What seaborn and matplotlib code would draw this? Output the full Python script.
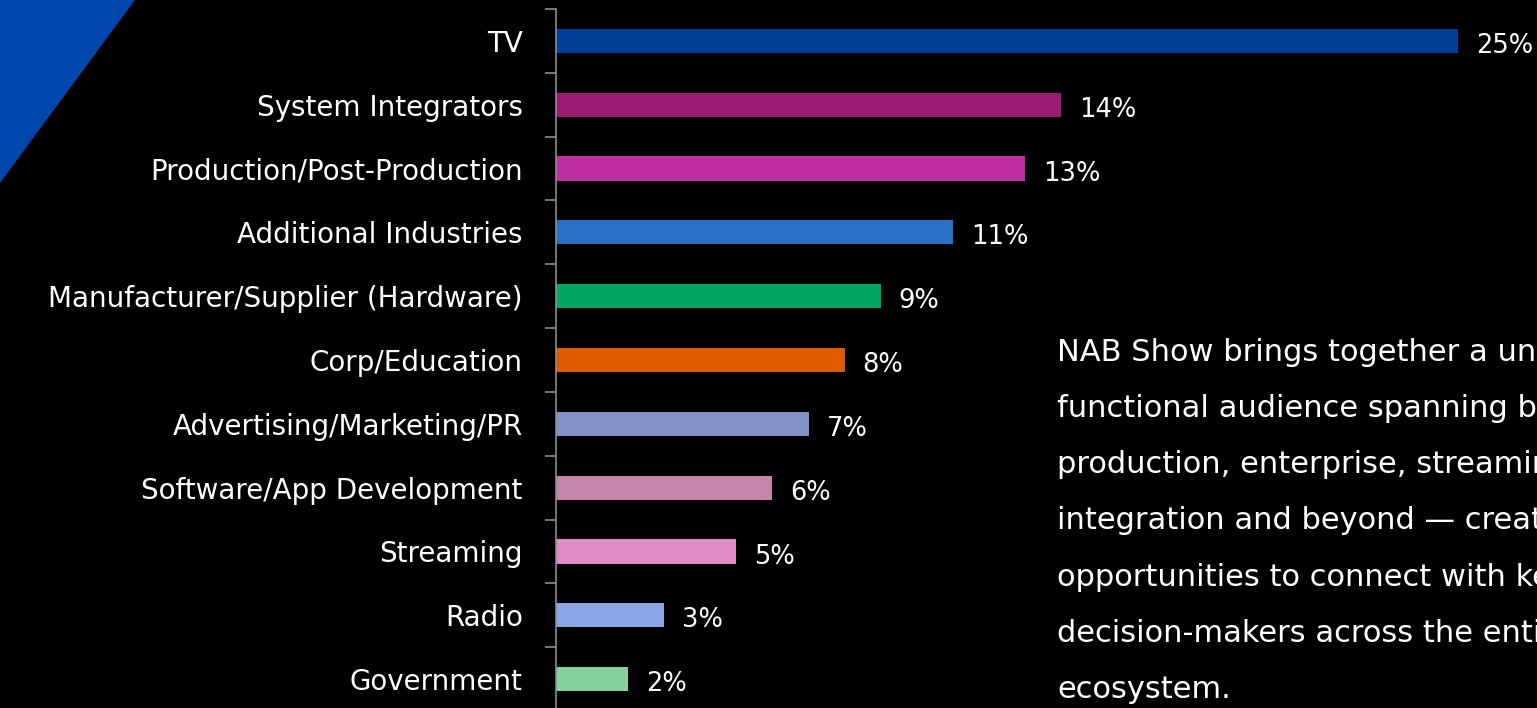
import matplotlib
matplotlib.use("Agg")
import matplotlib.pyplot as plt
from matplotlib.patches import Polygon
import seaborn as sns
import pandas as pd

# Data
categories = ["TV", "System Integrators", "Production/Post-Production",
              "Additional Industries", "Manufacturer/Supplier (Hardware)",
              "Corp/Education", "Advertising/Marketing/PR",
              "Software/App Development", "Streaming", "Radio", "Government"]
values = [25, 14, 13, 11, 9, 8, 7, 6, 5, 3, 2]
bar_colors = ["#003F9A", "#9B1B72", "#BD2E9E", "#2A70C9", "#00A862",
              "#E05A00", "#8592C8", "#C386A8", "#E08AC8", "#8AA8E8", "#86D1A0"]
blurb = ["NAB Show brings together a unique, cross-",
         "functional audience spanning broadcast,",
         "production, enterprise, streaming, systems",
         "integration and beyond \u2014 creating",
         "opportunities to connect with key",
         "decision-makers across the entire content",
         "ecosystem."]

df = pd.DataFrame({"category": categories, "value": values})

sns.set_theme(style="dark")
plt.rcParams["font.family"] = ["DejaVu Sans"]

fig = plt.figure(figsize=(15.37, 7.08), dpi=100, facecolor="black")

# blue corner triangle
fig.patches.append(Polygon([[0, 1], [135 / 1537, 1], [0, 1 - 183 / 708]],
                           closed=True, transform=fig.transFigure,
                           facecolor="#0047AB", edgecolor="none"))

ax = fig.add_axes([556 / 1537, 1 - 711 / 708, 1 - 556 / 1537, 702 / 708])
ax.set_facecolor("none")

sns.barplot(data=df, x="value", y="category", hue="category",
            palette=bar_colors, legend=False, width=0.38, ax=ax,
            orient="h", saturation=1, linewidth=0, edgecolor="none")

ax.set_xlim(0, 25 * (1537 - 556) / (1458 - 556))
ax.set_ylim(len(categories) - 0.5, -0.5)
ax.set_xlabel("")
ax.set_ylabel("")
ax.set_xticks([])

for s in ["top", "right", "bottom"]:
    ax.spines[s].set_visible(False)
ax.spines["left"].set_color("#8C8C8C")
ax.spines["left"].set_linewidth(1.2)

ax.set_yticks(range(len(categories)))
ax.set_yticklabels(categories, color="white", fontsize=20)
ax.tick_params(axis="y", which="major", length=0, pad=24)
ax.set_yticks([i + 0.5 for i in range(-1, len(categories))], minor=True)
ax.tick_params(axis="y", which="minor", length=8, width=1.2,
               color="#8C8C8C", left=True)
ax.grid(False)

for i, v in enumerate(values):
    ax.text(v + 0.5, i + 0.08, f"{v}%", color="white", fontsize=18.5,
            va="center", ha="left")

for k, line in enumerate(blurb):
    fig.text(1057 / 1537, 1 - (352 + k * 56.3) / 708, line, color="white",
             fontsize=22, va="center", ha="left")

fig.savefig("out.png", dpi=100, facecolor="black")
